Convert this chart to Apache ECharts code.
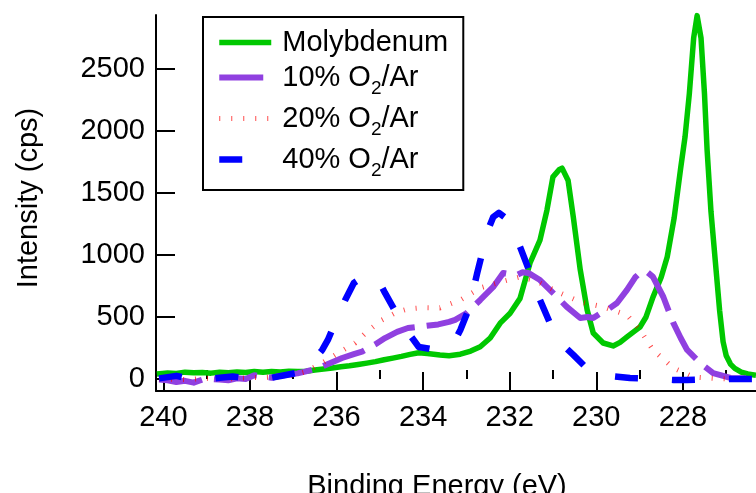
<!DOCTYPE html>
<html>
<head>
<meta charset="utf-8">
<script src="https://cdn.jsdelivr.net/npm/echarts@6/dist/echarts.min.js"></script>
<style>
html,body{margin:0;padding:0;background:#fff;}
#chart{width:756px;height:493px;}
</style>
</head>
<body>
<div id="chart"></div>
<script>
// Binding energy (eV) / intensity (cps) pairs
const seriesNames = ['Molybdenum', '10% O2/Ar', '20% O2/Ar', '40% O2/Ar'];

const moEnergy = [240.15,239.9,239.7,239.5,239.3,239.1,238.9,238.7,238.5,238.3,238.1,237.9,237.7,237.5,237.3,237.1,236.9,236.7,236.5,236.3,236.1,235.9,235.7,235.5,235.3,235.1,234.9,234.7,234.5,234.3,234.1,233.9,233.61,233.4,233.14,232.9,232.68,232.45,232.22,231.99,231.76,231.53,231.3,231.14,231.0,230.85,230.79,230.65,230.53,230.37,230.21,230.07,229.84,229.61,229.45,229.29,229.1,228.99,228.85,228.69,228.5,228.36,228.2,228.05,227.95,227.85,227.75,227.67,227.58,227.5,227.44,227.35,227.25,227.15,227.07,227.0,226.9,226.8,226.65,226.5,226.31];
const moValues = [40,48,45,55,50,52,47,55,50,57,52,60,55,60,57,63,60,62,72,80,88,98,106,117,128,140,155,168,182,198,212,205,194,188,200,225,260,330,450,530,650,935,1120,1360,1630,1690,1700,1600,1306,880,556,371,290,266,295,339,390,419,500,660,820,985,1300,1700,1950,2300,2750,2930,2750,2300,1850,1350,950,550,300,190,120,85,55,40,30];

const o10Energy = [240.1,239.9,239.7,239.5,239.3,239.1,238.9,238.7,238.5,238.3,238.1,237.9,237.7,237.5,237.3,237.1,236.9,236.73,236.5,236.33,236.1,235.87,235.6,235.41,235.1,234.88,234.6,234.35,234.0,233.65,233.4,233.26,233.0,232.68,232.38,232.15,232.0,231.83,231.7,231.57,231.3,231.0,230.68,230.37,230.2,230.07,229.9,229.75,229.52,229.29,229.1,228.99,228.85,228.69,228.45,228.22,228.05,227.9,227.6,227.3,226.9,226.6,226.31];
const o10Values = [-5,-10,-25,-15,-30,-5,0,-5,-10,5,0,30,20,10,25,35,45,59,80,100,135,169,200,220,280,330,380,411,425,440,460,476,530,637,742,855,845,839,860,855,798,694,581,492,500,492,530,556,613,718,820,855,870,823,661,452,330,234,129,48,8,5,5];

const o20Energy = [240.1,239.5,239.0,238.5,238.0,237.5,237.0,236.7,236.33,236.0,235.57,235.3,234.95,234.6,234.35,234.0,233.61,233.14,232.68,232.22,231.76,231.5,231.3,230.84,230.37,229.84,229.29,228.99,228.69,228.22,227.76,227.3,226.8,226.31];
const o20Values = [0,-5,5,0,10,15,30,60,129,200,290,380,476,540,565,575,573,637,734,782,823,800,774,694,621,581,516,395,234,89,16,5,0,0];

const o40Energy = [240.1,239.9,239.7,239.5,239.3,239.0,238.7,238.4,238.1,237.8,237.5,237.2,236.9,236.6,236.33,236.2,236.0,235.8,235.6,235.4,235.2,235.06,234.88,234.65,234.42,234.1,233.8,233.6,233.4,233.26,233.14,232.95,232.84,232.75,232.5,232.38,232.25,232.1,231.94,231.76,231.53,231.3,230.9,230.53,230.2,229.68,229.22,228.6,228.22,227.9,227.2,226.31];
const o40Values = [5,15,25,10,0,-5,10,20,5,0,10,30,50,120,234,315,480,637,774,820,830,814,694,550,411,258,240,250,274,315,395,560,718,855,1202,1306,1340,1300,1218,1065,855,637,315,194,80,24,8,0,-8,-8,0,0];

const xMajorTicks = [240,238,236,234,232,230,228];
const xMinorTicks = [239,237,235,233,231,229,227];
const yTicks = [0,500,1000,1500,2000,2500];

const pair = (xs, ys) => xs.map((x, i) => [x, ys[i]]);
const FONT = 'Liberation Sans, Arial, Helvetica, sans-serif';
const FS = 29;

const chart = echarts.init(document.getElementById('chart'), null, {renderer: 'canvas'});
const xRange = {min: 226.31, max: 240.17, inverse: true};
const plain = v => String(v);

chart.setOption({
  animation: false,
  backgroundColor: '#fff',
  grid: {left: 156, top: 15, right: 0, bottom: 102, containLabel: false, outerBoundsMode: 'none'},
  legend: {
    orient: 'vertical',
    left: 203, top: 17,
    padding: [11, 15, 10, 13],
    itemGap: 0,
    itemWidth: 52, itemHeight: 14,
    borderColor: '#000', borderWidth: 2,
    selectedMode: false,
    itemStyle: {opacity: 0},
    lineStyle: {width: 'inherit', type: 'inherit', color: 'inherit', cap: 'butt'},
    data: seriesNames,
    formatter: n => '{a|' + n.replace('O2', 'O}{s|2}{a|') + '}',
    textStyle: {
      fontFamily: FONT, fontSize: FS, color: '#000',
      padding: [0, 0, 0, 6],
      rich: {
        a: {fontFamily: FONT, fontSize: FS, lineHeight: 28, color: '#000'},
        s: {fontFamily: FONT, fontSize: 19, lineHeight: 18, color: '#000', padding: [22, 0, 0, 0]}
      }
    }
  },
  xAxis: [
    Object.assign({
      type: 'value', position: 'bottom',
      name: 'Binding Energy (eV)', nameLocation: 'middle', nameGap: 81,
      nameTextStyle: {fontFamily: FONT, fontSize: FS, color: '#000', padding: [0, 38, 0, 0]},
      axisLine: {show: true, onZero: false, lineStyle: {color: '#000', width: 2}},
      axisTick: {show: true, inside: true, length: 19, lineStyle: {color: '#000', width: 2}, customValues: xMajorTicks},
      axisLabel: {show: true, margin: 12, fontFamily: FONT, fontSize: FS, color: '#000', customValues: xMajorTicks, formatter: plain},
      splitLine: {show: false}
    }, xRange),
    Object.assign({
      type: 'value', position: 'bottom', gridIndex: 0,
      axisLine: {show: false},
      axisTick: {show: true, inside: true, length: 9, lineStyle: {color: '#000', width: 2}, customValues: xMinorTicks},
      axisLabel: {show: false},
      splitLine: {show: false}
    }, xRange)
  ],
  yAxis: {
    type: 'value', min: -97, max: 2935,
    name: 'Intensity (cps)', nameLocation: 'middle', nameGap: 113,
    nameTextStyle: {fontFamily: FONT, fontSize: FS, color: '#000', padding: [0, 0, 0, 10]},
    axisLine: {show: true, onZero: false, lineStyle: {color: '#000', width: 2}},
    axisTick: {show: true, inside: true, length: 19, lineStyle: {color: '#000', width: 2}, customValues: yTicks},
    axisLabel: {show: true, margin: 11, fontFamily: FONT, fontSize: FS, color: '#000', customValues: yTicks, formatter: plain},
    splitLine: {show: false}
  },
  series: [
    {name: seriesNames[0], type: 'line', data: pair(moEnergy, moValues), symbol: 'none', showSymbol: false,
     lineStyle: {color: '#00c800', width: 5.5, join: 'round'}, itemStyle: {color: '#00c800'}},
    {name: seriesNames[1], type: 'line', data: pair(o10Energy, o10Values), symbol: 'none', showSymbol: false,
     lineStyle: {color: '#9040e0', width: 6, type: [44, 12], cap: 'butt', join: 'round'}, itemStyle: {color: '#9040e0'}},
    {name: seriesNames[2], type: 'line', data: pair(o20Energy, o20Values), symbol: 'none', showSymbol: false,
     lineStyle: {color: 'rgba(255,0,0,0.7)', width: 5, type: [1, 11], cap: 'butt'}, itemStyle: {color: 'rgba(255,0,0,0.7)'}},
    {name: seriesNames[3], type: 'line', data: pair(o40Energy, o40Values), symbol: 'none', showSymbol: false,
     lineStyle: {color: '#0000ff', width: 6.5, type: [23, 34], cap: 'butt', join: 'round'}, itemStyle: {color: '#0000ff'}}
  ]
});
</script>
</body>
</html>
